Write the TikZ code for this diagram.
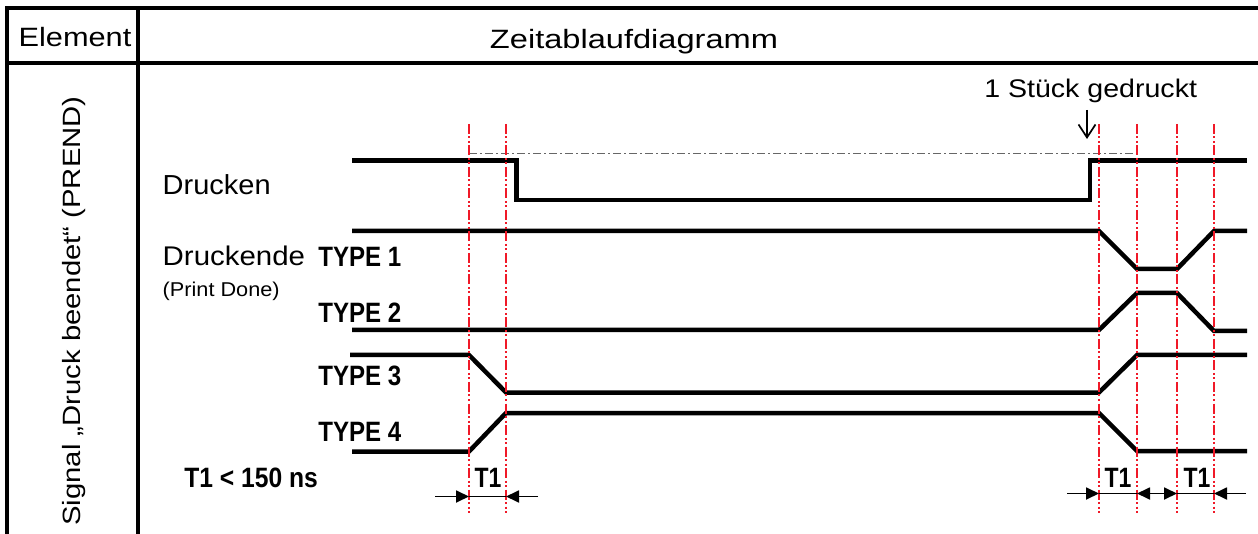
\documentclass[tikz,border=0pt]{standalone}
\usepackage{fontspec}
\setmainfont{Liberation Sans}
\usetikzlibrary{arrows.meta}
\definecolor{redline}{RGB}{240,25,40}
\newcommand{\txt}[3]{\scalebox{#1}[1]{\fontsize{#2}{#2}\selectfont #3}}
\begin{document}
\begin{tikzpicture}[x=1pt,y=-1pt,
  frame/.style={line width=3.4pt},
  sig/.style={line width=4.5pt},
  redmark/.style={draw=redline, line width=2.6pt, dash pattern=on 10pt off 2.5pt on 2pt off 2.5pt on 2pt off 2.5pt},
  refline/.style={draw=black!60, line width=1.4pt, dash pattern=on 8pt off 3pt on 2pt off 3pt},
  lbl/.style={inner sep=0pt, outer sep=0pt},
  dimarrow/.style={line width=1.8pt, -{Triangle[length=13pt,width=12pt]}},
  dimboth/.style={line width=1.8pt, {Triangle[length=13pt,width=12pt]}-{Triangle[length=13pt,width=12pt]}},
  dimline/.style={line width=1.8pt},
  pointer/.style={line width=1.7pt, -{Straight Barb[length=13pt,width=17pt]}},
]
\useasboundingbox (0,0) rectangle (1258,534);
% table frame
\draw[frame] (1258,8) -- (7,8) -- (7,534);
\draw[frame] (7,63) -- (1258,63);
\draw[frame] (138,8) -- (138,534);
% headers
\node[lbl, anchor=base] (elem) at (75,47) {\txt{1.16}{26.5}{Element}};
\node[lbl, anchor=base] (zeit) at (634,49) {\txt{1.23}{26.5}{Zeitablaufdiagramm}};
\node[lbl, rotate=90, anchor=base] (signal) at (80,311) {\txt{1.17}{25}{Signal „Druck beendet“ (PREND)}};
% labels
\node[lbl, anchor=base west] (drucken) at (162.7,194.5) {\txt{1.055}{27.5}{Drucken}};
\node[lbl, anchor=base west] (druckende) at (162.7,266) {\txt{1.09}{27}{Druckende}};
\node[lbl, anchor=base west] (printdone) at (162.7,297) {\txt{1.085}{20}{(Print Done)}};
\node[lbl, anchor=base west] (type1) at (318.3,266.7) {\txt{0.86}{28}{\bfseries TYPE 1}};
\node[lbl, anchor=base west] (type2) at (318.3,322.3) {\txt{0.86}{28}{\bfseries TYPE 2}};
\node[lbl, anchor=base west] (type3) at (318.3,385) {\txt{0.86}{28}{\bfseries TYPE 3}};
\node[lbl, anchor=base west] (type4) at (318.3,441.7) {\txt{0.86}{28}{\bfseries TYPE 4}};
\node[lbl, anchor=base west] (tlimit) at (184.3,487.7) {\txt{0.88}{28}{\bfseries T1 < 150 ns}};
\node[lbl, anchor=base] (t1a) at (488,487.7) {\txt{0.82}{28}{\bfseries T1}};
\node[lbl, anchor=base] (t1b) at (1118,487.7) {\txt{0.82}{28}{\bfseries T1}};
\node[lbl, anchor=base] (t1c) at (1197,487.7) {\txt{0.82}{28}{\bfseries T1}};
\node[lbl, anchor=base east] (stueck) at (1197,97.5) {\txt{1.12}{25.5}{1 Stück gedruckt}};
% pointer
\coordinate (pa) at (1087,110);
\coordinate (pb) at (1087,139);
\draw[pointer] (pa) -- (pb);
% reference dash-dot line
\coordinate (ref0) at (469,153.3);
\coordinate (ref1) at (1137,153.3);
\draw[refline] (ref0) -- (ref1);
% signals
\draw[sig] (352,160.5) -- (516.7,160.5) -- (516.7,200) -- (1090,200) -- (1090,160.5) -- (1247,160.5);
\draw[sig] (352,231) -- (1099,231) -- (1137,269) -- (1177,269) -- (1214,231) -- (1247,231);
\draw[sig] (352,330) -- (1099,330) -- (1137,293) -- (1177,293) -- (1214,331) -- (1247,331);
\draw[sig] (350,355) -- (469,355) -- (506,392.5) -- (1099,392.5) -- (1137,355) -- (1247,355);
\draw[sig] (352,451.5) -- (469,451.5) -- (506,413) -- (1099,413) -- (1137,451) -- (1247,451);
% red markers
\foreach \n/\xx in {a/469,b/506,c/1099,d/1137,e/1177,f/1214}{
  \coordinate (top\n) at (\xx,124);
  \coordinate (bot\n) at (\xx,513);
  \draw[redmark] (top\n) -- (bot\n);
}
% dimension arrows left
\coordinate (dl0) at (435,496.5);
\coordinate (dl1) at (469,496.5);
\coordinate (dl2) at (506,496.5);
\coordinate (dl3) at (538,496.5);
\draw[dimarrow] (dl0) -- (dl1);
\draw[dimline] (dl1) -- (dl2);
\draw[dimarrow] (dl3) -- (dl2);
% dimension arrows right
\coordinate (dr0) at (1067,493.5);
\coordinate (dr1) at (1099,493.5);
\coordinate (dr2) at (1137,493.5);
\coordinate (dr3) at (1177,493.5);
\coordinate (dr4) at (1214,493.5);
\coordinate (dr5) at (1246,493.5);
\draw[dimarrow] (dr0) -- (dr1);
\draw[dimline] (dr1) -- (dr2);
\draw[dimboth] (dr2) -- (dr3);
\draw[dimline] (dr3) -- (dr4);
\draw[dimarrow] (dr5) -- (dr4);
\end{tikzpicture}
\end{document}
